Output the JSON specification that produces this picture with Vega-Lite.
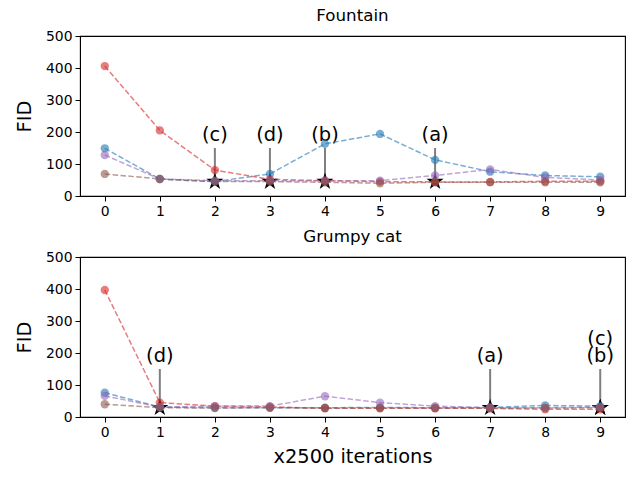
{
  "$schema": "https://vega.github.io/schema/vega-lite/v6.json",
  "description": "FID over training iterations, two datasets",
  "padding": {"left": 13, "top": 7, "right": 5, "bottom": 5},
  "spacing": 9,
  "config": {
    "font": "DejaVu Sans",
    "view": {"stroke": "black", "strokeWidth": 1.1},
    "axis": {
      "grid": false,
      "domainColor": "black",
      "tickColor": "black",
      "tickSize": 5,
      "labelFontSize": 13.9,
      "labelColor": "black",
      "labelPadding": 3,
      "titleFontWeight": "normal",
      "titleFontSize": 19.4,
      "titleColor": "black"
    },
    "title": {"fontSize": 16.7, "fontWeight": "normal", "offset": 0, "color": "black"}
  },
  "datasets": {
    "curves": [
      {"panel": "Fountain", "series": "s1", "iter": 0, "fid": 149},
      {"panel": "Fountain", "series": "s1", "iter": 1, "fid": 53},
      {"panel": "Fountain", "series": "s1", "iter": 2, "fid": 45},
      {"panel": "Fountain", "series": "s1", "iter": 3, "fid": 69},
      {"panel": "Fountain", "series": "s1", "iter": 4, "fid": 163},
      {"panel": "Fountain", "series": "s1", "iter": 5, "fid": 194},
      {"panel": "Fountain", "series": "s1", "iter": 6, "fid": 113},
      {"panel": "Fountain", "series": "s1", "iter": 7, "fid": 76},
      {"panel": "Fountain", "series": "s1", "iter": 8, "fid": 64},
      {"panel": "Fountain", "series": "s1", "iter": 9, "fid": 60},
      {"panel": "Fountain", "series": "s2", "iter": 0, "fid": 406},
      {"panel": "Fountain", "series": "s2", "iter": 1, "fid": 205},
      {"panel": "Fountain", "series": "s2", "iter": 2, "fid": 81},
      {"panel": "Fountain", "series": "s2", "iter": 3, "fid": 52},
      {"panel": "Fountain", "series": "s2", "iter": 4, "fid": 48},
      {"panel": "Fountain", "series": "s2", "iter": 5, "fid": 45},
      {"panel": "Fountain", "series": "s2", "iter": 6, "fid": 44},
      {"panel": "Fountain", "series": "s2", "iter": 7, "fid": 44},
      {"panel": "Fountain", "series": "s2", "iter": 8, "fid": 46},
      {"panel": "Fountain", "series": "s2", "iter": 9, "fid": 46},
      {"panel": "Fountain", "series": "s3", "iter": 0, "fid": 128},
      {"panel": "Fountain", "series": "s3", "iter": 1, "fid": 53},
      {"panel": "Fountain", "series": "s3", "iter": 2, "fid": 48},
      {"panel": "Fountain", "series": "s3", "iter": 3, "fid": 48},
      {"panel": "Fountain", "series": "s3", "iter": 4, "fid": 48},
      {"panel": "Fountain", "series": "s3", "iter": 5, "fid": 48},
      {"panel": "Fountain", "series": "s3", "iter": 6, "fid": 64},
      {"panel": "Fountain", "series": "s3", "iter": 7, "fid": 83},
      {"panel": "Fountain", "series": "s3", "iter": 8, "fid": 58},
      {"panel": "Fountain", "series": "s3", "iter": 9, "fid": 50},
      {"panel": "Fountain", "series": "s4", "iter": 0, "fid": 69},
      {"panel": "Fountain", "series": "s4", "iter": 1, "fid": 53},
      {"panel": "Fountain", "series": "s4", "iter": 2, "fid": 45},
      {"panel": "Fountain", "series": "s4", "iter": 3, "fid": 45},
      {"panel": "Fountain", "series": "s4", "iter": 4, "fid": 43},
      {"panel": "Fountain", "series": "s4", "iter": 5, "fid": 40},
      {"panel": "Fountain", "series": "s4", "iter": 6, "fid": 43},
      {"panel": "Fountain", "series": "s4", "iter": 7, "fid": 43},
      {"panel": "Fountain", "series": "s4", "iter": 8, "fid": 43},
      {"panel": "Fountain", "series": "s4", "iter": 9, "fid": 43},
      {"panel": "Grumpy cat", "series": "s1", "iter": 0, "fid": 76},
      {"panel": "Grumpy cat", "series": "s1", "iter": 1, "fid": 31},
      {"panel": "Grumpy cat", "series": "s1", "iter": 2, "fid": 29},
      {"panel": "Grumpy cat", "series": "s1", "iter": 3, "fid": 29},
      {"panel": "Grumpy cat", "series": "s1", "iter": 4, "fid": 29},
      {"panel": "Grumpy cat", "series": "s1", "iter": 5, "fid": 30},
      {"panel": "Grumpy cat", "series": "s1", "iter": 6, "fid": 29},
      {"panel": "Grumpy cat", "series": "s1", "iter": 7, "fid": 30},
      {"panel": "Grumpy cat", "series": "s1", "iter": 8, "fid": 36},
      {"panel": "Grumpy cat", "series": "s1", "iter": 9, "fid": 34},
      {"panel": "Grumpy cat", "series": "s2", "iter": 0, "fid": 397},
      {"panel": "Grumpy cat", "series": "s2", "iter": 1, "fid": 45},
      {"panel": "Grumpy cat", "series": "s2", "iter": 2, "fid": 34},
      {"panel": "Grumpy cat", "series": "s2", "iter": 3, "fid": 32},
      {"panel": "Grumpy cat", "series": "s2", "iter": 4, "fid": 27},
      {"panel": "Grumpy cat", "series": "s2", "iter": 5, "fid": 27},
      {"panel": "Grumpy cat", "series": "s2", "iter": 6, "fid": 27},
      {"panel": "Grumpy cat", "series": "s2", "iter": 7, "fid": 27},
      {"panel": "Grumpy cat", "series": "s2", "iter": 8, "fid": 24},
      {"panel": "Grumpy cat", "series": "s2", "iter": 9, "fid": 24},
      {"panel": "Grumpy cat", "series": "s3", "iter": 0, "fid": 66},
      {"panel": "Grumpy cat", "series": "s3", "iter": 1, "fid": 31},
      {"panel": "Grumpy cat", "series": "s3", "iter": 2, "fid": 34},
      {"panel": "Grumpy cat", "series": "s3", "iter": 3, "fid": 34},
      {"panel": "Grumpy cat", "series": "s3", "iter": 4, "fid": 65},
      {"panel": "Grumpy cat", "series": "s3", "iter": 5, "fid": 45},
      {"panel": "Grumpy cat", "series": "s3", "iter": 6, "fid": 34},
      {"panel": "Grumpy cat", "series": "s3", "iter": 7, "fid": 29},
      {"panel": "Grumpy cat", "series": "s3", "iter": 8, "fid": 29},
      {"panel": "Grumpy cat", "series": "s3", "iter": 9, "fid": 31},
      {"panel": "Grumpy cat", "series": "s4", "iter": 0, "fid": 40},
      {"panel": "Grumpy cat", "series": "s4", "iter": 1, "fid": 29},
      {"panel": "Grumpy cat", "series": "s4", "iter": 2, "fid": 28},
      {"panel": "Grumpy cat", "series": "s4", "iter": 3, "fid": 29},
      {"panel": "Grumpy cat", "series": "s4", "iter": 4, "fid": 28},
      {"panel": "Grumpy cat", "series": "s4", "iter": 5, "fid": 28},
      {"panel": "Grumpy cat", "series": "s4", "iter": 6, "fid": 28},
      {"panel": "Grumpy cat", "series": "s4", "iter": 7, "fid": 28},
      {"panel": "Grumpy cat", "series": "s4", "iter": 8, "fid": 28},
      {"panel": "Grumpy cat", "series": "s4", "iter": 9, "fid": 29}
    ]
  },
  "vconcat": [
    {
      "title": "Fountain",
      "width": 545,
      "height": 160,
      "encoding": {
        "x": {"field": "iter", "type": "quantitative",
              "scale": {"domain": [-0.45, 9.45], "nice": false, "zero": false},
              "axis": {"values": [0, 1, 2, 3, 4, 5, 6, 7, 8, 9], "title": null, "format": "d"}}
      },
      "layer": [
        {
          "data": {"values": [
            {"label": "(c)", "iter": 2, "best": 45, "top": 150, "ty": 190},
            {"label": "(d)", "iter": 3, "best": 45, "top": 150, "ty": 190},
            {"label": "(b)", "iter": 4, "best": 45, "top": 150, "ty": 190},
            {"label": "(a)", "iter": 6, "best": 45, "top": 150, "ty": 190}
          ]},
          "layer": [
            {
              "mark": {"type": "rule", "color": "black", "opacity": 0.5, "strokeWidth": 2},
              "encoding": {
                "y": {"field": "top", "type": "quantitative", "scale": {"domain": [0, 500], "nice": false},
                      "axis": {"values": [0, 100, 200, 300, 400, 500], "title": "FID", "titlePadding": 11}},
                "y2": {"field": "best"}
              }
            },
            {
              "mark": {"type": "text", "fontSize": 19.4, "baseline": "middle", "color": "black"},
              "encoding": {
                "y": {"field": "ty", "type": "quantitative",
                      "axis": {"values": [0, 100, 200, 300, 400, 500], "title": "FID", "titlePadding": 11}},
                "text": {"field": "label", "type": "nominal"}
              }
            },
            {
              "mark": {"type": "point", "shape": "M0,-1L0.225,-0.309L0.951,-0.309L0.363,0.118L0.588,0.809L0,0.382L-0.588,0.809L-0.363,0.118L-0.951,-0.309L-0.225,-0.309Z",
                       "filled": true, "color": "black", "opacity": 1, "size": 324},
              "encoding": {
                "y": {"field": "best", "type": "quantitative",
                      "axis": {"values": [0, 100, 200, 300, 400, 500], "title": "FID", "titlePadding": 11}}
              }
            }
          ]
        },
        {
          "data": {"name": "curves"},
          "transform": [{"filter": "datum.panel == 'Fountain'"}],
          "mark": {"type": "line", "strokeDash": [5.5, 2.4], "strokeWidth": 1.5, "opacity": 0.6,
                   "point": {"filled": true, "size": 70, "opacity": 0.6}},
          "encoding": {
            "y": {"field": "fid", "type": "quantitative",
                  "axis": {"values": [0, 100, 200, 300, 400, 500], "title": "FID", "titlePadding": 11}},
            "color": {"field": "series", "type": "nominal",
                      "scale": {"domain": ["s1", "s2", "s3", "s4"], "range": ["#1f77b4", "#d62728", "#9467bd", "#8c564b"]},
                      "legend": null}
          }
        }
      ]
    },
    {
      "title": "Grumpy cat",
      "width": 545,
      "height": 160,
      "encoding": {
        "x": {"field": "iter", "type": "quantitative",
              "scale": {"domain": [-0.45, 9.45], "nice": false, "zero": false},
              "axis": {"values": [0, 1, 2, 3, 4, 5, 6, 7, 8, 9], "title": "x2500 iterations", "format": "d", "titlePadding": 9}}
      },
      "layer": [
        {
          "data": {"values": [
            {"label": "(d)", "iter": 1, "best": 29, "top": 150, "ty": 190, "line": 1},
            {"label": "(a)", "iter": 7, "best": 29, "top": 150, "ty": 190, "line": 1},
            {"label": "(b)", "iter": 9, "best": 29, "top": 150, "ty": 190, "line": 1},
            {"label": "(c)", "iter": 9, "best": 29, "top": 150, "ty": 245, "line": 0}
          ]},
          "layer": [
            {
              "mark": {"type": "rule", "color": "black", "strokeWidth": 2},
              "encoding": {
                "y": {"field": "top", "type": "quantitative", "scale": {"domain": [0, 500], "nice": false},
                      "axis": {"values": [0, 100, 200, 300, 400, 500], "title": "FID", "titlePadding": 11}},
                "y2": {"field": "best"},
                "opacity": {"condition": {"test": "datum.line == 1", "value": 0.5}, "value": 0}
              }
            },
            {
              "mark": {"type": "text", "fontSize": 19.4, "baseline": "middle", "color": "black"},
              "encoding": {
                "y": {"field": "ty", "type": "quantitative",
                      "axis": {"values": [0, 100, 200, 300, 400, 500], "title": "FID", "titlePadding": 11}},
                "text": {"field": "label", "type": "nominal"}
              }
            },
            {
              "mark": {"type": "point", "shape": "M0,-1L0.225,-0.309L0.951,-0.309L0.363,0.118L0.588,0.809L0,0.382L-0.588,0.809L-0.363,0.118L-0.951,-0.309L-0.225,-0.309Z",
                       "filled": true, "color": "black", "opacity": 1, "size": 324},
              "encoding": {
                "y": {"field": "best", "type": "quantitative",
                      "axis": {"values": [0, 100, 200, 300, 400, 500], "title": "FID", "titlePadding": 11}}
              }
            }
          ]
        },
        {
          "data": {"name": "curves"},
          "transform": [{"filter": "datum.panel == 'Grumpy cat'"}],
          "mark": {"type": "line", "strokeDash": [5.5, 2.4], "strokeWidth": 1.5, "opacity": 0.6,
                   "point": {"filled": true, "size": 70, "opacity": 0.6}},
          "encoding": {
            "y": {"field": "fid", "type": "quantitative",
                  "axis": {"values": [0, 100, 200, 300, 400, 500], "title": "FID", "titlePadding": 11}},
            "color": {"field": "series", "type": "nominal",
                      "scale": {"domain": ["s1", "s2", "s3", "s4"], "range": ["#1f77b4", "#d62728", "#9467bd", "#8c564b"]},
                      "legend": null}
          }
        }
      ]
    }
  ]
}
